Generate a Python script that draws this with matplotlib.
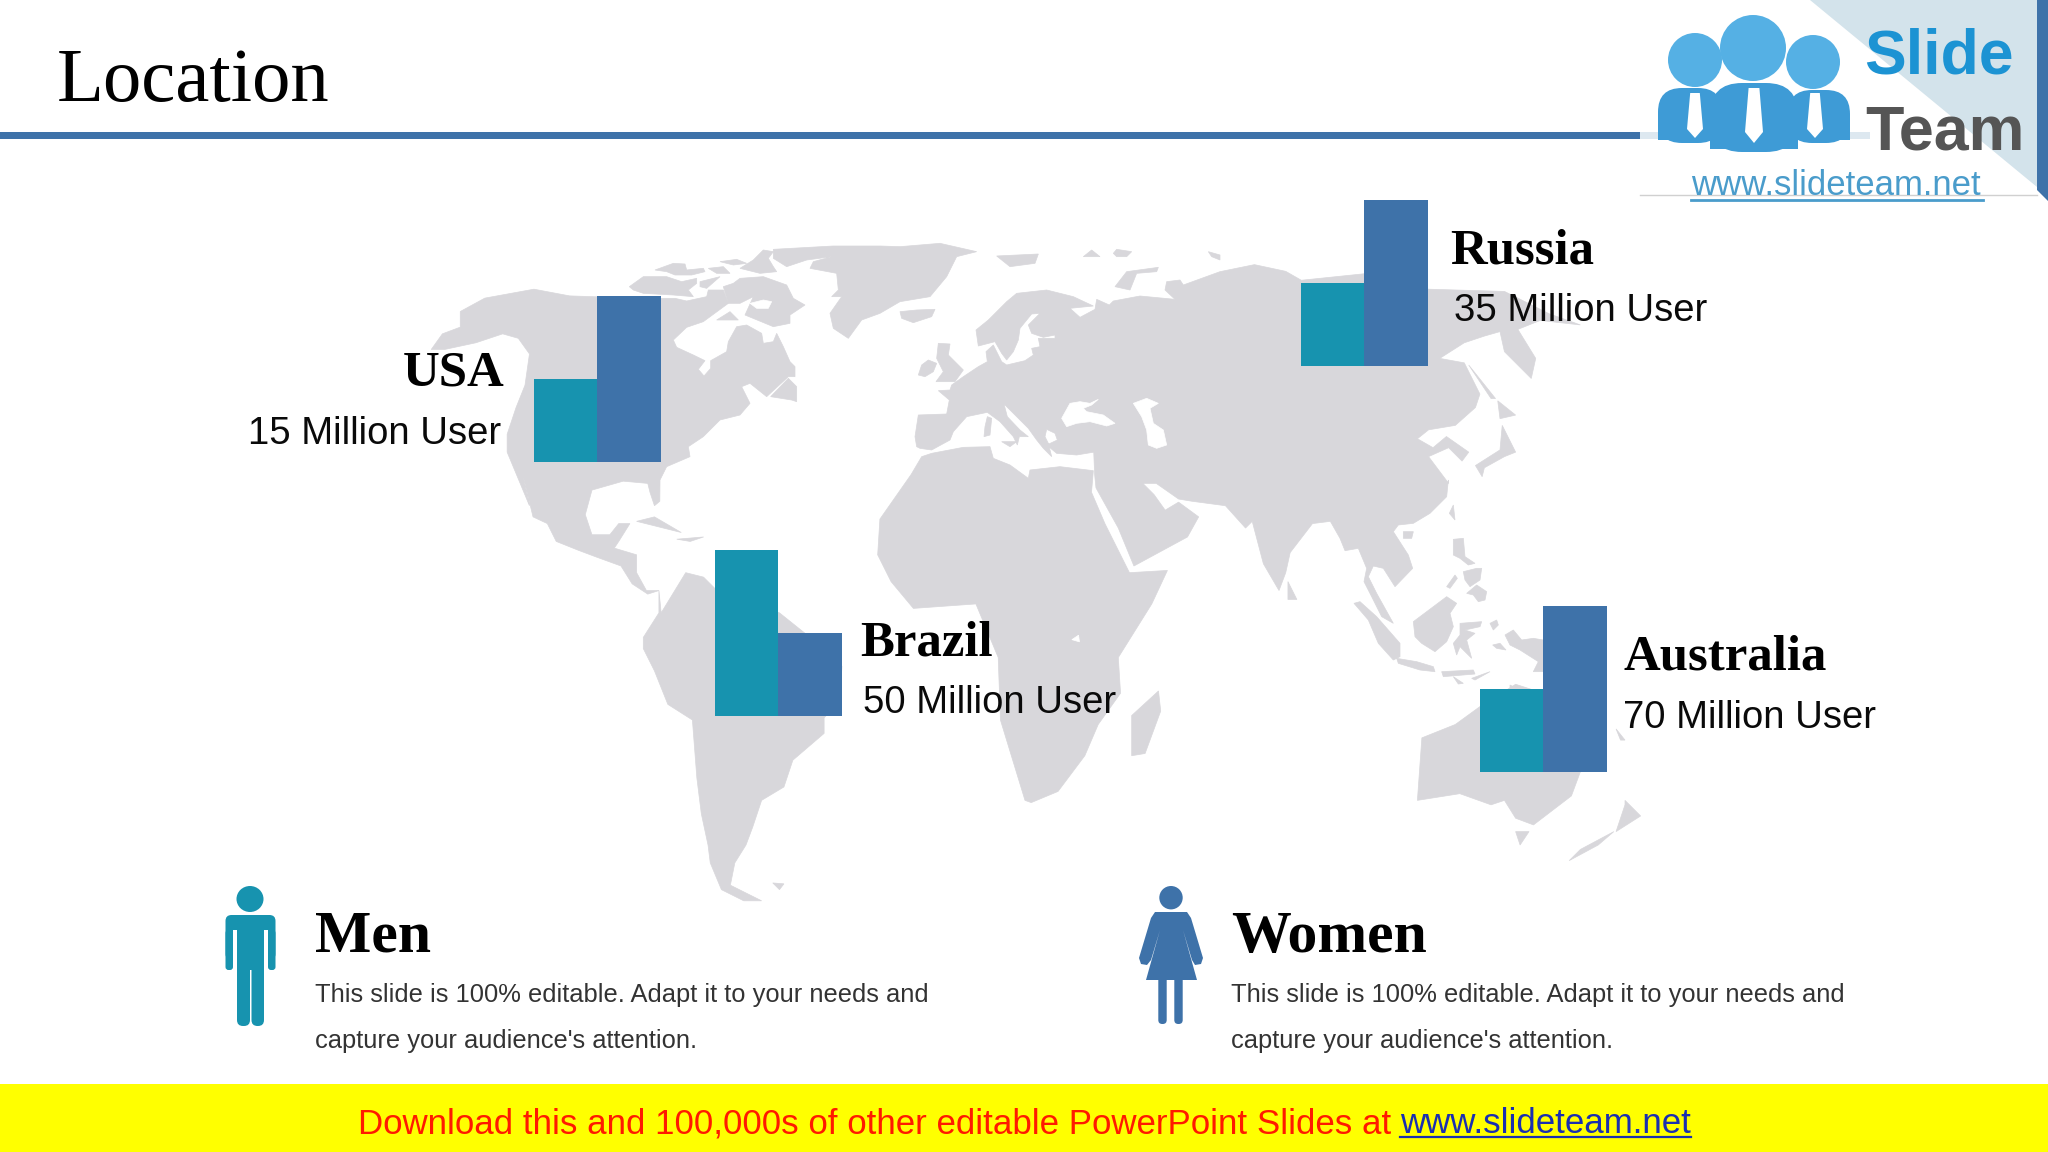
import matplotlib
matplotlib.use("Agg")
import matplotlib.pyplot as plt
from matplotlib.patches import Polygon, Circle, Ellipse, Rectangle, FancyBboxPatch

# ---- data ----
countries = ["USA", "Brazil", "Russia", "Australia"]
users = ["15 Million User", "50 Million User", "35 Million User", "70 Million User"]
men_values = [1, 2, 1, 1]
women_values = [2, 1, 2, 2]

legend_names = ["Men", "Women"]
legend_text = ["This slide is 100% editable. Adapt it to your needs and",
               "capture your audience's attention."]

TEAL = "#1793AF"
BLUE = "#3E72A9"
LAND = "#D8D7DB"
BG = "#FFFFFF"


def west(pts):
    return [(x / 2.24 + 400, y / 2.24 + 220) for x, y in pts]


def east(pts):
    return [(x / 2.24 + 1000, y / 2.24 + 220) for x, y in pts]


def eu(pts):
    return [(x / 3 + 900, y / 3 + 240) for x, y in pts]


def ca(pts):
    return [(x / 3 + 560, y / 3 + 240) for x, y in pts]


def sea(pts):
    return [(x / 3 + 1340, y / 3 + 480) for x, y in pts]


north_america = west([
    (70, 290), (95, 255), (135, 240), (135, 205), (190, 175), (300, 155), (380, 170), (440, 172)]) + ca([
    (300, 175), (345, 175), (380, 183), (440, 170), (445, 150), (490, 150), (505, 190), (430, 245),
    (380, 262), (340, 300), (350, 322), (400, 345), (435, 362), (415, 388), (432, 408), (452, 385),
    (452, 362), (500, 335), (505, 305), (530, 260), (560, 255), (605, 280), (610, 310), (640, 305),
    (650, 280), (670, 320), (690, 365), (705, 380), (705, 410), (685, 410), (620, 470), (570, 430),
    (545, 440), (570, 490), (540, 525), (480, 540), (430, 590), (385, 620), (390, 650), (320, 680),
    (300, 720)]) + west([
    (582, 630), (570, 640), (560, 610), (555, 590), (500, 585), (430, 605), (415, 660), (430, 705),
    (470, 705), (490, 680), (515, 680), (490, 720), (480, 735), (530, 750), (530, 790), (552, 830),
    (580, 830), (555, 838), (520, 815), (495, 775), (440, 755), (400, 740), (350, 720), (330, 680),
    (298, 665), (275, 570), (290, 640), (265, 580), (240, 520), (240, 480), (260, 420), (280, 370),
    (290, 300), (265, 265), (230, 255), (170, 275), (100, 290)])

south_america = west([
    (580, 830), (585, 880), (640, 790), (680, 800), (710, 830), (850, 880), (950, 960), (990, 1000),
    (985, 1080), (950, 1115), (950, 1150), (880, 1210), (860, 1270), (810, 1300), (790, 1360),
    (775, 1400), (750, 1440), (740, 1490), (810, 1525), (770, 1525), (720, 1500), (695, 1440),
    (690, 1400), (675, 1330), (665, 1250), (655, 1120), (600, 1085), (570, 1010), (545, 960),
    (545, 935), (580, 880)])

greenland = ca([(640, 28), (820, 18), (960, 18)]) + eu([
    (0, 20), (120, 10), (230, 35), (170, 50), (140, 110), (90, 170), (0, 185)]) + ca([
    (960, 220), (905, 240), (865, 295), (820, 265), (810, 220), (845, 170), (815, 170), (835, 150),
    (830, 100), (750, 85), (760, 65), (815, 50), (740, 60), (680, 80), (640, 55)])

eurasia = eu([
    (45, 590), (55, 525), (140, 522), (148, 480), (115, 452), (150, 450), (155, 435), (190, 410),
    (235, 380), (262, 365), (258, 335), (280, 315), (305, 365), (320, 375), (375, 362), (400, 345),
    (395, 325), (420, 320), (415, 295), (465, 295), (465, 285), (430, 292), (395, 280), (385, 255),
    (420, 220), (395, 222), (360, 265), (355, 300), (340, 335), (320, 360), (305, 340), (285, 305),
    (235, 318), (228, 270), (265, 240), (320, 185), (350, 160), (440, 150), (520, 170), (580, 198),
    (510, 205), (540, 232), (585, 208), (590, 178), (628, 195), (640, 183), (720, 168), (825, 178),
    (795, 150), (800, 125), (840, 120), (850, 135), (960, 95)]) + east([
    (570, 100), (640, 115), (675, 135), (820, 120), (960, 155), (1130, 160), (1230, 210), (1300, 235),
    (1210, 225), (1160, 245), (1200, 310), (1190, 355), (1130, 295), (1120, 250), (1085, 260),
    (1040, 275), (985, 310), (1040, 320), (1075, 390), (1065, 420), (1020, 460), (960, 470), (935, 490),
    (970, 510), (1000, 485), (1050, 520), (1035, 540), (1005, 510), (960, 530), (1005, 590)]) + sea([
    (325, 0), (320, 50), (270, 100), (220, 130), (175, 135), (160, 155), (205, 225), (218, 265),
    (165, 320), (130, 265), (100, 258), (85, 290), (110, 340), (160, 430), (125, 410), (95, 350),
    (72, 305), (80, 265), (55, 205), (15, 212), (0, 175)]) + east([
    (740, 675), (700, 680), (650, 745), (640, 790), (625, 830), (590, 770), (565, 675), (550, 690),
    (505, 640), (430, 630), (400, 625), (350, 590), (320, 590), (345, 615), (370, 650), (400, 632),
    (445, 665), (420, 710), (300, 775), (265, 690), (215, 600), (212, 570), (210, 520)]) + eu([
    (530, 645), (470, 640), (440, 615), (472, 600), (465, 580), (440, 568), (435, 590), (445, 610),
    (455, 650), (430, 625), (410, 600), (385, 565), (340, 520), (312, 492), (322, 530), (360, 570),
    (385, 590), (358, 590), (352, 615), (340, 590), (300, 545), (262, 517), (200, 530), (160, 575),
    (150, 600), (95, 630), (60, 625), (50, 620)])

africa = west([
    (1400, 1300), (1345, 1120), (1340, 980), (1290, 860), (1150, 870), (1100, 810), (1070, 750),
    (1075, 670), (1145, 570)]) + eu([
    (65, 650), (95, 640), (190, 622), (270, 620), (280, 655), (330, 675), (385, 715), (390, 690),
    (480, 680), (580, 692)]) + east([
    (205, 610), (235, 680), (290, 790), (375, 785), (340, 860), (265, 980), (270, 1060), (220, 1130),
    (190, 1200), (130, 1280), (70, 1305)])

australia = east([
    (935, 1300), (945, 1160), (1020, 1130), (1075, 1090), (1155, 1040), (1217, 1060), (1300, 1236),
    (1280, 1290), (1195, 1355), (1155, 1340), (1130, 1300), (1100, 1310), (1030, 1285)])

islands = [
    # arctic canada
    ca([(208, 140), (250, 110), (320, 110), (365, 125), (410, 115), (410, 130), (385, 150), (400, 170),
        (340, 165), (250, 160), (220, 150)]),
    ca([(285, 90), (340, 70), (375, 72), (380, 90), (430, 85), (435, 95), (395, 105), (345, 105), (320, 95)]),
    ca([(445, 85), (490, 80), (510, 100), (470, 100)]),
    ca([(480, 65), (530, 58), (560, 70), (520, 75)]),
    ca([(420, 125), (480, 110), (440, 145), (420, 140)]),
    ca([(490, 140), (520, 130), (540, 115), (610, 110), (680, 135), (700, 175), (735, 195), (690, 225),
        (690, 250), (640, 260), (555, 225), (580, 170), (540, 190), (505, 190)]),
    ca([(470, 240), (510, 215), (535, 240), (500, 240)]),
    ca([(580, 60), (610, 30), (640, 35), (625, 55), (640, 80), (650, 95), (600, 100), (540, 85)]),
    ca([(632, 470), (685, 415), (710, 440), (710, 485), (695, 480)]),
    # caribbean
    west([(530, 675), (570, 665), (630, 700), (590, 690)]),
    west([(620, 715), (680, 710), (650, 720)]),
    west([(835, 1485), (860, 1487), (850, 1500)]),
    # europe
    eu([(0, 215), (50, 210), (105, 208), (95, 230), (40, 248), (5, 235)]),
    eu([(115, 310), (150, 312), (145, 345), (190, 390), (165, 425), (108, 425), (130, 395), (110, 355)]),
    eu([(55, 405), (65, 375), (85, 360), (110, 370), (100, 395), (75, 410)]),
    eu([(290, 48), (415, 42), (405, 70), (330, 80)]),
    eu([(550, 50), (575, 30), (600, 50)]),
    eu([(640, 40), (650, 28), (695, 35), (680, 50), (650, 50)]),
    eu([(645, 140), (680, 95), (775, 82), (770, 95), (710, 100), (690, 150)]),
    eu([(925, 35), (960, 45), (960, 60), (935, 50)]),
    eu([(262, 530), (275, 535), (270, 585), (252, 590), (255, 560)]),
    eu([(305, 605), (350, 605), (330, 620)]),
    # asia
    east([(1125, 460), (1155, 520), (1130, 530), (1085, 555), (1080, 575), (1065, 550), (1120, 515)]),
    east([(1050, 325), (1110, 400), (1100, 400)]),
    east([(1115, 405), (1155, 437), (1120, 445)]),
    east([(645, 810), (665, 850), (645, 850)]),
    sea([(340, 75), (345, 120), (328, 100)]),
    sea([(190, 155), (220, 155), (215, 175), (190, 175)]),
    sea([(340, 178), (370, 175), (375, 230), (405, 250), (385, 255), (360, 235), (340, 225)]),
    sea([(370, 275), (410, 265), (425, 265), (420, 300), (390, 320), (375, 300)]),
    sea([(380, 340), (410, 315), (440, 335), (435, 360), (415, 365), (400, 345)]),
    sea([(320, 320), (345, 285), (352, 295), (330, 325)]),
    sea([(220, 425), (260, 395), (320, 350), (350, 370), (330, 400), (340, 440), (320, 485), (285, 515),
         (245, 490), (225, 470)]),
    sea([(42, 370), (60, 365), (110, 410), (180, 490), (180, 530), (160, 540), (115, 490), (85, 420)]),
    sea([(170, 535), (230, 545), (280, 560), (285, 575), (240, 570), (175, 550)]),
    sea([(360, 430), (425, 425), (420, 440), (375, 450), (405, 460), (380, 480), (395, 535), (360, 500),
         (350, 525), (340, 490), (360, 465)]),
    sea([(450, 430), (470, 420), (475, 435), (460, 450)]),
    sea([(458, 495), (480, 490), (498, 510), (470, 505)]),
    sea([(495, 465), (520, 450), (545, 480), (580, 475), (610, 480), (610, 575), (580, 575), (595, 545),
         (540, 510), (510, 495)]),
    sea([(305, 575), (400, 570), (405, 582), (310, 590)]),
    sea([(340, 590), (370, 610), (355, 612)]),
    sea([(395, 595), (450, 575), (405, 600)]),
    sea([(510, 615), (530, 625), (510, 628)]),
    # south
    east([(355, 1055), (360, 1100), (325, 1195), (295, 1200), (295, 1110)]),
    east([(1155, 1370), (1185, 1370), (1165, 1400)]),
    east([(1400, 1300), (1435, 1335), (1380, 1370), (1400, 1310)]),
    east([(1375, 1370), (1340, 1400), (1275, 1435), (1300, 1410)]),
    east([(1380, 1140), (1400, 1165), (1390, 1165)]),
]

seas = [
    # black sea, caspian, lake victoria, baffin lake
    eu([(485, 535), (510, 490), (540, 485), (570, 490), (595, 478), (575, 495), (550, 505), (560, 515),
        (610, 525), (645, 550), (620, 558), (570, 545), (530, 550), (500, 560)]),
    eu([(700, 490), (740, 475), (775, 490), (750, 505), (760, 550), (790, 570), (800, 615), (770, 625),
        (745, 615), (740, 570), (725, 530)]),
    west([(1505, 940), (1520, 930), (1522, 945)]),
    ca([(570, 190), (610, 180), (635, 185), (625, 205), (590, 205)]),
]

# ---- figure, one axes in slide pixels ----
fig = plt.figure(figsize=(20.48, 11.52), dpi=100, facecolor=BG)
ax = fig.add_axes([0, 0, 1, 1])
ax.set_xlim(0, 2048)
ax.set_ylim(1152, 0)
ax.axis("off")

SERIF = "Liberation Serif"
SANS = "Liberation Sans"

# map
for shape in [north_america, south_america, greenland, eurasia, africa, australia] + islands:
    ax.add_patch(Polygon(shape, closed=True, fc=LAND, ec=LAND, lw=0.5, zorder=1))
for shape in seas:
    ax.add_patch(Polygon(shape, closed=True, fc=BG, ec=BG, lw=0.5, zorder=1.5))

# header
ax.text(57, 101, "Location", family=SERIF, fontsize=55.3, color="black", zorder=5)
ax.add_patch(Rectangle((0, 132), 1640, 6.5, fc=BLUE, ec="none", zorder=2))

# bars, one pair per country
bar_x = [534, 715, 1301, 1480]
bar_base = [461.5, 715.5, 365.5, 772]
bar_w = 63.4
unit = 83
for i in range(len(countries)):
    ax.bar(bar_x[i], -men_values[i] * unit, width=bar_w, bottom=bar_base[i], align="edge",
           color=TEAL, zorder=3)
    ax.bar(bar_x[i] + bar_w, -women_values[i] * unit, width=bar_w, bottom=bar_base[i], align="edge",
           color=BLUE, zorder=3)

# country labels
name_pos = [(505, 386, "right"), (860, 655, "left"), (1450, 263, "left"), (1624, 669, "left")]
user_pos = [(501, 444, "right"), (863, 713, "left"), (1454, 321, "left"), (1623, 728, "left")]
for i in range(len(countries)):
    ax.text(name_pos[i][0], name_pos[i][1], countries[i], family=SERIF, fontweight="bold",
            fontsize=36.6, ha=name_pos[i][2], color="black", zorder=5)
    ax.text(user_pos[i][0], user_pos[i][1], users[i], family=SANS, fontsize=27.5,
            ha=user_pos[i][2], color="#0A0A0A", zorder=5)

# legend text
for x, name in zip([315, 1231], legend_names):
    ax.text(x, 952, name, family=SERIF, fontweight="bold", fontsize=43, color="black", zorder=5)
    ax.text(x, 1002, legend_text[0], family=SANS, fontsize=18.38, color="#333333", zorder=5)
    ax.text(x, 1048, legend_text[1], family=SANS, fontsize=18.38, color="#333333", zorder=5)


def rounded(x0, y0, x1, y1, r, color, z=3):
    ax.add_patch(FancyBboxPatch((x0 + r, y0 + r), x1 - x0 - 2 * r, y1 - y0 - 2 * r,
                                boxstyle=f"round,pad={r},rounding_size={r}",
                                fc=color, ec="none", zorder=z))


# man icon
ax.add_patch(Ellipse((250, 899), 27, 26, fc=TEAL, ec="none", zorder=3))
rounded(225.5, 915, 275.5, 960, 6, TEAL)
rounded(225.5, 930, 233, 970, 3, TEAL)
rounded(268, 930, 275.5, 970, 3, TEAL)
rounded(237, 925, 250, 1026, 6, TEAL)
rounded(251.5, 925, 264, 1026, 6, TEAL)
ax.add_patch(Rectangle((237, 925), 27, 45, fc=TEAL, ec="none", zorder=3))
ax.add_patch(Rectangle((233, 930), 4, 45, fc=BG, ec="none", zorder=3.1))
ax.add_patch(Rectangle((264, 930), 4, 45, fc=BG, ec="none", zorder=3.1))

# woman icon
ax.add_patch(Circle((1171, 897.7), 11.7, fc=BLUE, ec="none", zorder=3))
ax.add_patch(Polygon([(1155, 912), (1187, 912), (1191, 918), (1203, 958), (1201, 964), (1195, 965),
                      (1192, 960), (1183, 930), (1197, 980), (1146, 980), (1160, 930), (1151, 960),
                      (1147, 965), (1141, 964), (1139, 958), (1151, 918)],
                     closed=True, fc=BLUE, ec="none", zorder=3))
rounded(1158.3, 970, 1166.7, 1024, 4, BLUE)
rounded(1174.3, 970, 1182.7, 1024, 4, BLUE)

# logo block
ax.add_patch(Rectangle((1640, 0), 408, 196, fc="white", ec="none", zorder=6))
ax.add_patch(Polygon([(1810, 0), (2037, 0), (2037, 187)], closed=True, fc="#D3E3EB", ec="none", zorder=6))
ax.add_patch(Polygon([(2037, 0), (2048, 0), (2048, 201), (2037, 190)], closed=True, fc=BLUE, ec="none", zorder=6))
ax.add_patch(Rectangle((1640, 132), 230, 6.5, fc="#DDE8F0", ec="none", zorder=6))
ax.plot([1640, 2037], [195, 195], color="#D0D0D0", lw=1, zorder=6)

for cx, cy, r in [(1695, 60, 27), (1813, 62, 27), (1753, 48, 33)]:
    ax.add_patch(Circle((cx, cy), r, fc="#55B0E4", ec="none", zorder=7))
for x0, y0, x1, y1, r, z in [(1658, 88, 1722, 143, 24, 7), (1788, 90, 1850, 143, 24, 7),
                             (1710, 83, 1798, 152, 32, 7.2)]:
    rounded(x0, y0, x1, y1, r, "#3E9BD6", z)
    ax.add_patch(Rectangle((x0, y0 + r), x1 - x0, y1 - y0 - r - 3, fc="#3E9BD6", ec="none", zorder=z))
for cx, top, w, h in [(1695, 93, 16, 45), (1754, 88, 18, 55), (1815, 93, 16, 45)]:
    ax.add_patch(Polygon([(cx - w * 0.3, top), (cx + w * 0.3, top), (cx + w * 0.5, top + h * 0.8),
                          (cx, top + h), (cx - w * 0.5, top + h * 0.8)],
                         closed=True, fc="white", ec="none", zorder=8))

ax.text(1864, 73, "Slide", family=SANS, fontweight="bold", fontsize=45, color="#1C93D3", zorder=8)
ax.text(1865, 150, "Team", family=SANS, fontweight="bold", fontsize=45.2, color="#555555", zorder=8)
ax.text(1836, 195, "www.slideteam.net", family=SANS, fontsize=25, color="#4A9CCB", ha="center", zorder=8)
ax.plot([1691, 1983], [200, 200], color="#4A9CCB", lw=2, zorder=8)

# footer
ax.add_patch(Rectangle((0, 1083.5), 2048, 68.5, fc="#FFFF00", ec="none", zorder=6))
ax.text(358, 1133, "Download this and 100,000s of other editable PowerPoint Slides at ",
        family=SANS, fontsize=25.1, color="#FF1A00", zorder=7)
ax.text(1400, 1133, "www.slideteam.net", family=SANS, fontsize=25.1, color="#1A2FB0", zorder=7)
ax.plot([1400, 1691], [1137, 1137], color="#1A2FB0", lw=1.6, zorder=7)

fig.savefig("out.png", dpi=100, facecolor=BG)
